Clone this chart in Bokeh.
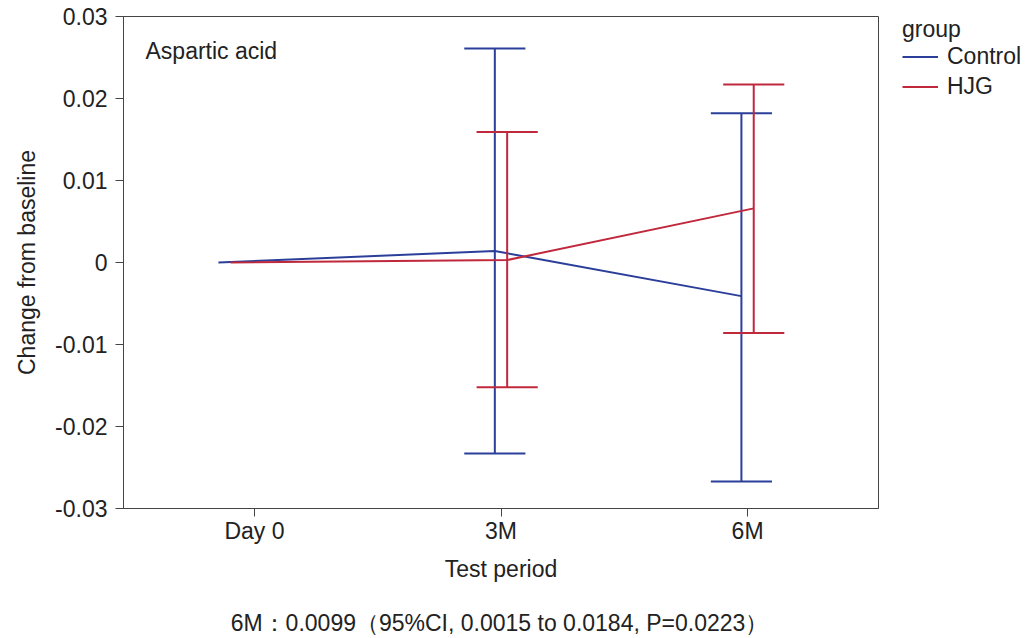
from bokeh.plotting import figure
from bokeh.models import Range1d, FixedTicker, Legend, LegendItem, Label
from bokeh.layouts import row, column
from bokeh.embed import file_html
from bokeh.resources import INLINE

# ---- data ----
periods = ["Day 0", "3M", "6M"]
control_mean = [0.0, 0.0014, -0.0041]
hjg_mean = [0.0, 0.0003, 0.0066]
# 95% CI at 3M and 6M
ci_periods = ["3M", "6M"]
control_lo = [-0.0233, -0.0267]
control_hi = [0.0261, 0.0182]
hjg_lo = [-0.0152, -0.0086]
hjg_hi = [0.0159, 0.0217]
y_ticks = [-0.03, -0.02, -0.01, 0.0, 0.01, 0.02, 0.03]
y_tick_labels = ["-0.03", "-0.02", "-0.01", "0", "0.01", "0.02", "0.03"]
group_names = ["Control", "HJG"]
note = "6M\uff1a0.0099\uff0895%CI, 0.0015 to 0.0184, P=0.0223\uff09"

# ---- style ----
FONT = "Liberation Sans"
FS = "23px"
BLUE = "#2b3f9a"
RED = "#c0283c"
TXT = "#222222"
dodge_control = [-0.146, -0.025, -0.025]
dodge_hjg = [-0.097, 0.025, 0.025]
cap = 0.124
H = 600
NAN = float("nan")

def bare(w, h, **kw):
    f = figure(width=w, height=h, output_backend="svg", toolbar_location=None,
               x_axis_location=None, y_axis_location=None,
               x_range=Range1d(0, 1), y_range=Range1d(0, 1), **kw)
    f.grid.visible = False
    f.outline_line_color = None
    return f

idx = {q: i for i, q in enumerate(periods)}

p = figure(width=880, height=H, output_backend="svg", toolbar_location=None,
           x_range=Range1d(-0.531, 2.531), y_range=Range1d(-0.03, 0.03),
           min_border_left=123, min_border_top=16, min_border_right=2, min_border_bottom=92)
p.grid.visible = False
p.outline_line_color = "#444444"
p.outline_line_width = 1

def series(mean, lo, hi, dodge, color):
    xs = [idx[q] + d for q, d in zip(periods, dodge)]
    p.line(xs, mean, line_color=color, line_width=2)
    ex = [idx[q] + dodge[idx[q]] for q in ci_periods]
    p.segment(x0=ex, y0=lo, x1=ex, y1=hi, line_color=color, line_width=2)
    p.segment(x0=[x - cap for x in ex], y0=lo, x1=[x + cap for x in ex], y1=lo, line_color=color, line_width=2)
    p.segment(x0=[x - cap for x in ex], y0=hi, x1=[x + cap for x in ex], y1=hi, line_color=color, line_width=2)

series(control_mean, control_lo, control_hi, dodge_control, BLUE)
series(hjg_mean, hjg_lo, hjg_hi, dodge_hjg, RED)

# axes
p.xaxis.ticker = FixedTicker(ticks=list(range(len(periods))))
p.xaxis.major_label_overrides = {i: q for i, q in enumerate(periods)}
p.yaxis.ticker = FixedTicker(ticks=y_ticks)
p.yaxis.major_label_overrides = {t: l for t, l in zip(y_ticks, y_tick_labels)}
for ax in (p.xaxis, p.yaxis):
    ax.minor_tick_line_color = None
    ax.major_tick_in = 0
    ax.major_tick_out = 8
    ax.axis_line_color = "#444444"
    ax.major_tick_line_color = "#444444"
    ax.major_label_text_font = FONT
    ax.major_label_text_font_size = FS
    ax.major_label_text_color = TXT
    ax.axis_label_text_font = FONT
    ax.axis_label_text_font_size = FS
    ax.axis_label_text_color = TXT
    ax.axis_label_text_font_style = "normal"
p.xaxis.axis_label = "Test period"
p.yaxis.axis_label = "Change from baseline"
p.xaxis.major_label_standoff = 1
p.yaxis.major_label_standoff = 8
p.xaxis.axis_label_standoff = 9
p.yaxis.axis_label_standoff = 12

p.add_layout(Label(x=22, y=458, x_units="screen", y_units="screen", text="Aspartic acid",
                   text_font=FONT, text_font_size=FS, text_color=TXT, text_baseline="middle"))

# legend panel (right of the plot); proxy lines hold no visible points
lg = bare(144, H, min_border_left=22, min_border_top=16, min_border_right=0, min_border_bottom=0)
rl = [lg.line(x=[NAN, NAN], y=[NAN, NAN], line_color=c, line_width=2) for c in (BLUE, RED)]
legend = Legend(items=[LegendItem(label=n, renderers=[r]) for n, r in zip(group_names, rl)],
                title="group", location="top_left", orientation="vertical",
                padding=0, margin=0, spacing=3, label_height=27, glyph_height=27,
                glyph_width=36, label_standoff=9, title_standoff=0,
                border_line_alpha=0, background_fill_alpha=0,
                label_text_font=FONT, label_text_font_size=FS, label_text_color=TXT,
                title_text_font=FONT, title_text_font_size=FS, title_text_color=TXT,
                title_text_font_style="normal")
lg.add_layout(legend, "center")

# note strip (below)
nt = bare(1024, 38, min_border_left=0, min_border_top=0, min_border_right=0, min_border_bottom=0)
nt.add_layout(Label(x=499, y=16, x_units="screen", y_units="screen", text=note,
                    text_font=FONT, text_font_size=FS, text_color=TXT,
                    text_baseline="middle", text_align="center"))

layout = column(row(p, lg, spacing=0), nt, spacing=0)
open("out.html", "w").write(file_html(layout, INLINE))
